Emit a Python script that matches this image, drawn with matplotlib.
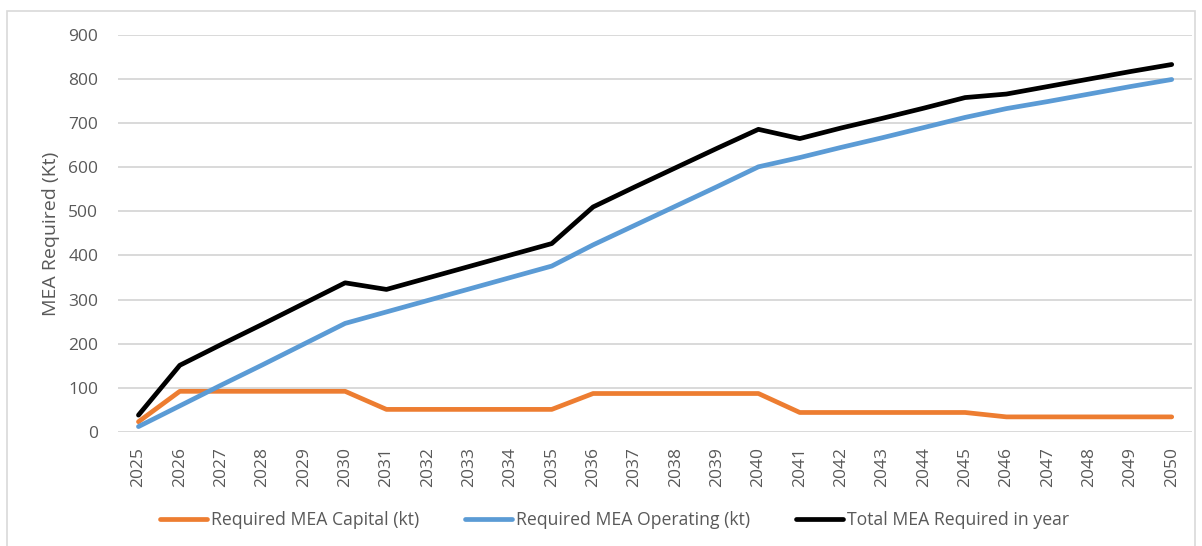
import matplotlib.pyplot as plt
from matplotlib.patches import Rectangle

years = list(range(2025, 2051))

capital = [23, 92, 92, 92, 92, 92, 51, 51, 51, 51, 51, 87, 87, 87, 87, 87,
           44, 44, 44, 44, 44, 34, 34, 34, 34, 34]
operating = [12, 59, 106, 152, 199, 246, 272, 298, 324, 350, 376, 424, 468, 512,
             556, 601, 622, 645, 667, 690, 713, 733, 749, 766, 783, 799]
total = [38, 151, 198, 244, 291, 338, 323, 349, 375, 401, 427, 510, 555, 599,
         643, 686, 665, 689, 711, 734, 758, 766, 783, 800, 817, 833]

series_names = ["Required MEA Capital (kt)", "Required MEA Operating (kt)",
                "Total MEA Required in year"]
colors = ["#ED7D31", "#5B9BD5", "#000000"]

fig = plt.figure(figsize=(12.02, 5.46), dpi=100)
ax = fig.add_axes([0.098, 0.209, 0.894, 0.727])

# chart area border like the excel export
fig.patches.append(Rectangle((0.006, -0.01), 0.988, 0.99, transform=fig.transFigure,
                             fill=False, edgecolor="#D9D9D9", linewidth=1.2))

x = list(range(len(years)))
for vals, name, c in zip([capital, operating, total], series_names, colors):
    ax.plot(x, vals, color=c, linewidth=3.4, label=name, solid_capstyle="round",
            solid_joinstyle="round")

ax.set_xlim(-0.5, len(years) - 0.5)
ax.set_ylim(0, 900)
ax.set_yticks(range(0, 901, 100))
ax.set_xticks(x)
ax.set_xticklabels([str(y) for y in years], rotation=90)

for s in ax.spines.values():
    s.set_visible(False)
ax.grid(axis="y", color="#D9D9D9", linewidth=1.4)
ax.set_axisbelow(True)
ax.tick_params(axis="both", length=0, labelsize=12.5, labelcolor="#595959")
ax.tick_params(axis="x", pad=11)
ax.tick_params(axis="y", pad=14)
for lab in ax.get_xticklabels() + ax.get_yticklabels():
    lab.set_fontfamily("Open Sans")

ax.set_ylabel("MEA Required (Kt)", fontsize=14, color="#595959",
              fontfamily="Open Sans", labelpad=6)

fig.legend(loc="center", bbox_to_anchor=(0.511, 0.048), ncol=3, frameon=False,
           prop={"family": "Open Sans", "size": 12.7}, labelcolor="#595959",
           handlelength=2.67, handletextpad=0.23, columnspacing=2.6)

plt.savefig("out.png", dpi=100)
